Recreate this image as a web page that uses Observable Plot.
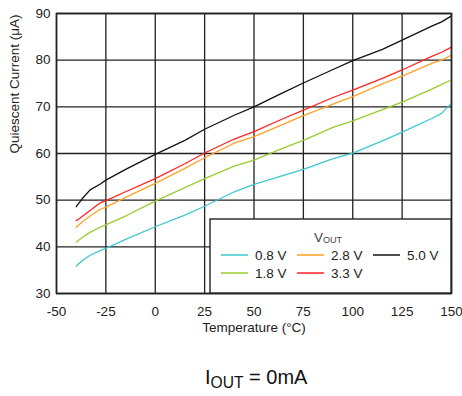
<!DOCTYPE html>
<html>
<head>
<meta charset="utf-8">
<script src="https://cdn.jsdelivr.net/npm/d3@7"></script>
<script src="https://cdn.jsdelivr.net/npm/@observablehq/plot@0.6"></script>
<style>
  body { margin: 0; background: white; font-family: "Liberation Sans", Arial, sans-serif; }
  #wrap { position: relative; width: 462px; height: 396px; }
  #caption { position: absolute; left: 205px; top: 366px; font-size: 20px; line-height: 22px; color: #111; white-space: nowrap; }
  #caption sub { font-size: 0.78em; vertical-align: -0.28em; line-height: 0; }
</style>
</head>
<body>
<div id="wrap"><div id="chart"></div><div id="caption">I<sub>OUT</sub> = 0mA</div></div>
<script>
const temps = [-40,-37,-33,-28,-25,-15,0,15,25,40,50,65,75,90,100,115,125,140,145,150];
const series = ["0.8 V","1.8 V","2.8 V","3.3 V","5.0 V"];
const colors = ["#3cc8d0","#99cc2e","#ffa126","#ff2222","#111111"];
const v08 = [35.9,37.0,38.2,39.2,39.7,41.6,44.3,46.8,48.7,51.8,53.4,55.3,56.6,58.9,60.1,62.7,64.6,67.5,68.6,70.8];
const v18 = [41.0,42.0,43.1,44.2,44.7,46.6,49.8,52.7,54.6,57.3,58.6,61.2,62.8,65.6,67.0,69.4,71.0,73.8,74.8,75.8];
const v28 = [44.2,45.3,46.6,48.0,48.5,50.6,53.6,56.8,59.1,62.2,63.6,66.3,68.1,70.6,72.2,74.9,76.6,79.3,80.0,81.1];
const v33 = [45.6,46.5,47.8,49.4,49.9,51.8,54.6,57.8,60.1,63.1,64.7,67.5,69.3,72.0,73.6,76.1,77.9,80.8,81.7,82.8];
const v50 = [48.6,50.3,52.2,53.4,54.3,56.6,59.8,62.8,65.2,68.2,70.0,73.1,75.1,78.0,79.9,82.3,84.3,87.3,88.2,89.5];
const xTicks = [-50,-25,0,25,50,75,100,125,150];
const yTicks = [30,40,50,60,70,80,90];
const xLabel = "Temperature (°C)";
const yLabel = "Quiescent Current (μA)";

const values = [v08, v18, v28, v33, v50];
const rows = [];
series.forEach((s, i) => temps.forEach((t, j) => rows.push({series: s, t, v: values[i][j]})));

const plot = Plot.plot({
  width: 462, height: 345,
  marginLeft: 56, marginRight: 11, marginTop: 13, marginBottom: 52,
  style: {fontFamily: "'Liberation Sans', Arial, sans-serif", fontSize: "13.5px", color: "#222", background: "white"},
  x: {domain: [-50, 150]},
  y: {domain: [30, 90]},
  color: {domain: series, range: colors},
  marks: [
    Plot.gridX(xTicks, {stroke: "#222", strokeOpacity: 1, strokeWidth: 1.3}),
    Plot.gridY(yTicks, {stroke: "#222", strokeOpacity: 1, strokeWidth: 1.3}),
    Plot.line(rows, {x: "t", y: "v", z: "series", stroke: "series", strokeWidth: 1.3}),
    Plot.frame({stroke: "#222", strokeWidth: 1.6}),
    Plot.axisX(xTicks, {tickSize: 0, tickPadding: 13, label: null, fill: "#222", fontSize: 13.5, tickFormat: d => String(d)}),
    Plot.axisY(yTicks, {tickSize: 0, tickPadding: 6, label: null, fill: "#222", fontSize: 13.5, tickFormat: d => String(d)}),
    Plot.text([xLabel], {frameAnchor: "bottom", dy: 38, fontSize: 13.5, fill: "#222"}),
    Plot.text([yLabel], {frameAnchor: "left", dx: -42, rotate: -90, fontSize: 13.5, fill: "#222"})
  ]
});
document.getElementById("chart").appendChild(plot);

// Legend box
const svg = d3.select(plot);
const lg = svg.append("g").attr("font-family", "'Liberation Sans', Arial, sans-serif").attr("font-size", 13.5).attr("fill", "#222").attr("text-anchor", "start");
lg.append("rect").attr("x", 210).attr("y", 219).attr("width", 241).attr("height", 74)
  .attr("fill", "white").attr("stroke", "#222").attr("stroke-width", 1.4);
const title = lg.append("text").attr("x", 328).attr("y", 241.5).attr("text-anchor", "middle").attr("fill", "#444");
title.append("tspan").text("V");
title.append("tspan").attr("font-size", 9).attr("dy", 1).text("OUT");
const pos = [[221, 255], [221, 273], [297, 255], [297, 273], [373, 255]];
series.forEach((s, i) => {
  const [x, y] = pos[i];
  lg.append("line").attr("x1", x).attr("x2", x + 27).attr("y1", y).attr("y2", y)
    .attr("stroke", colors[i]).attr("stroke-width", 1.5);
  lg.append("text").attr("x", x + 34).attr("y", y).attr("dy", "0.35em").attr("text-anchor", "start").text(s);
});
</script>
</body>
</html>
